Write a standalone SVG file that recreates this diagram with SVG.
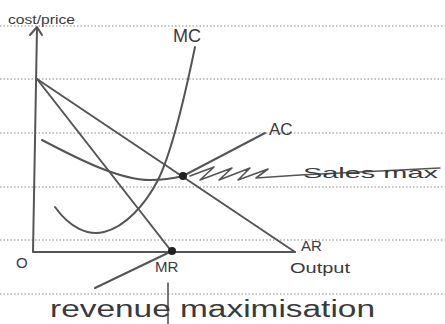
<svg xmlns="http://www.w3.org/2000/svg" width="445" height="324" viewBox="0 0 445 324">
<style>
.rule{stroke:#8a8a8a;stroke-width:1;stroke-dasharray:1.5 2;fill:none}
.ln{stroke:#555;stroke-width:2;fill:none;stroke-linecap:round;stroke-linejoin:round}
.lbl{font-family:"Liberation Sans",Arial,sans-serif;fill:#3a3a3a}
.dot{fill:#222}
</style>
<rect width="445" height="324" fill="#fff"/>
<g id="rules">
<line class="rule" x1="0" y1="26" x2="445" y2="26"/>
<line class="rule" x1="0" y1="79" x2="445" y2="79"/>
<line class="rule" x1="0" y1="133" x2="445" y2="133"/>
<line class="rule" x1="0" y1="187" x2="445" y2="187"/>
<line class="rule" x1="0" y1="240" x2="445" y2="240"/>
<line class="rule" x1="0" y1="294" x2="445" y2="294"/>
</g>
<g id="axes">
<path class="ln" d="M37,28 L33,252 L295,252"/>
<path class="ln" d="M30,35 L37,27 L42,35"/>
</g>
<g id="connectors">
<path id="AR-line" class="ln" d="M37,79 L295,252"/>
<path id="MR-line" class="ln" d="M37,79 L172,252"/>
<path id="MC-curve" class="ln" d="M55,207 C70,228 88,236 104,232 C125,227 145,205 158,180 C168,160 182,110 195,47"/>
<path id="AC-curve" class="ln" d="M42,140 C80,160 120,180 150,180 C165,180 175,178 183,176 L265,133"/>
<path id="sales-arrow" class="ln" d="M190,176 L214,167 L200,180 L232,168 L219,180 L250,168 L238,180 L268,169 L256,178 L300,175 L440,168" style="stroke-width:1.6"/>
<path id="revmax-line" class="ln" d="M172,251 L95,288"/>
<path id="revmax-tick" class="ln" d="M168,283 L168,324" style="stroke-width:1.6"/>
</g>
<g id="points">
<circle class="dot" cx="183" cy="176" r="4"/>
<circle class="dot" cx="172" cy="251" r="4"/>
</g>
<g id="labels">
<text class="lbl" x="8" y="24" font-size="12" textLength="67" lengthAdjust="spacingAndGlyphs">cost/price</text>
<text id="MC" class="lbl" x="173" y="42" font-size="18">MC</text>
<text id="AC" class="lbl" x="269" y="135" font-size="17">AC</text>
<text id="sales" class="lbl" x="303" y="178" font-size="15" textLength="135" lengthAdjust="spacingAndGlyphs">Sales max</text>
<text id="AR" class="lbl" x="301" y="251" font-size="15">AR</text>
<text id="Output" class="lbl" x="290" y="273" font-size="15" textLength="60" lengthAdjust="spacingAndGlyphs">Output</text>
<text id="MR" class="lbl" x="155" y="272" font-size="15">MR</text>
<text id="O" class="lbl" x="16" y="268" font-size="15">O</text>
<text id="revmax" class="lbl" x="50" y="317" font-size="23" textLength="325" lengthAdjust="spacingAndGlyphs">revenue maximisation</text>
</g>
</svg>
